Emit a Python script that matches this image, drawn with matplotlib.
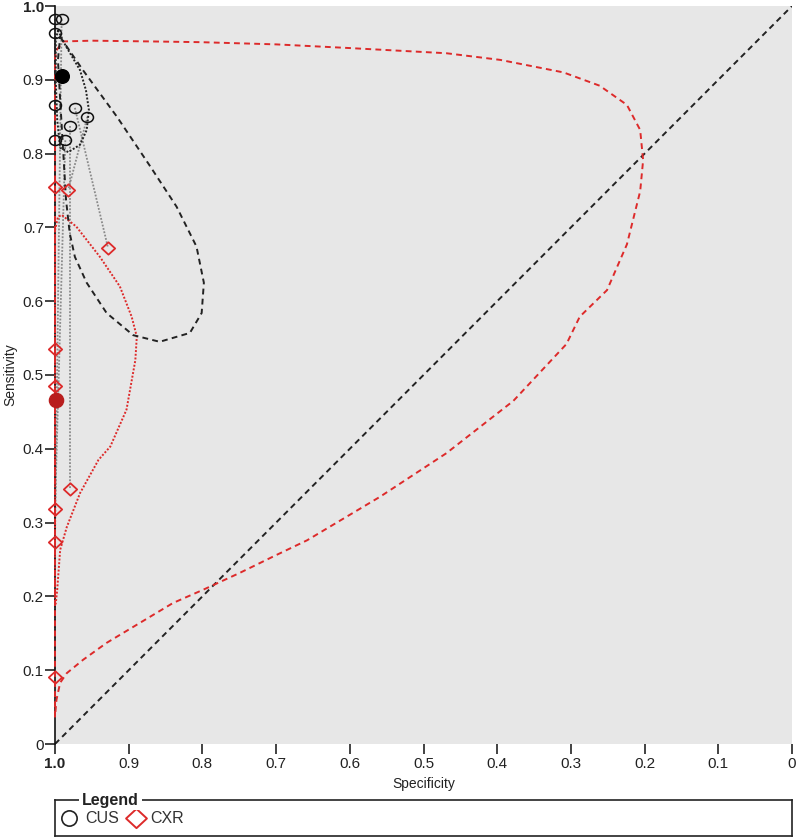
import matplotlib
matplotlib.use('Agg')
import matplotlib.pyplot as plt
from matplotlib.path import Path
from matplotlib.transforms import Affine2D
import numpy as np

plt.rcParams['font.family'] = ['Liberation Sans', 'DejaVu Sans']

# ---------------- data ----------------
# individual studies (paired): CUS and CXR (specificity, sensitivity)
cus_spec = [1.0, 0.991, 1.0, 1.0, 0.973, 0.956, 0.980, 1.0, 0.986]
cus_sens = [0.982, 0.982, 0.963, 0.866, 0.862, 0.850, 0.837, 0.819, 0.818]
cxr_spec = [1.0, 1.0, 1.0, 1.0, 0.928, 0.982, 0.980, 1.0, 1.0]
cxr_sens = [0.091, 0.274, 0.485, 0.535, 0.672, 0.751, 0.346, 0.755, 0.318]

# summary points
cus_sum_spec, cus_sum_sens = 0.991, 0.905
cxr_sum_spec, cxr_sum_sens = 0.999, 0.466

# CUS 95% confidence region (dotted)
cus_conf_spec = [0.996, 0.986, 0.966, 0.958, 0.954, 0.957, 0.966, 0.982, 0.993, 0.997, 0.999, 0.999, 0.996]
cus_conf_sens = [0.967, 0.947, 0.913, 0.886, 0.859, 0.832, 0.812, 0.802, 0.808, 0.846, 0.900, 0.954, 0.967]

# CUS 95% prediction region (dashed)
cus_pred_spec = [0.993, 0.962, 0.916, 0.871, 0.835, 0.808, 0.798, 0.801, 0.817, 0.858, 0.894,
                 0.930, 0.957, 0.973, 0.980, 0.985, 0.989, 0.993, 0.996, 0.993]
cus_pred_sens = [0.958, 0.913, 0.850, 0.783, 0.728, 0.674, 0.625, 0.584, 0.557, 0.545, 0.554,
                 0.584, 0.625, 0.660, 0.692, 0.737, 0.805, 0.873, 0.927, 0.958]

# CXR 95% confidence region (dotted)
cxr_conf_spec = [1.0, 0.996, 0.991, 0.971, 0.939, 0.912, 0.896, 0.889, 0.891, 0.903, 0.925,
                 0.941, 0.966, 0.984, 0.993, 0.997, 0.999, 1.0, 1.0]
cxr_conf_sens = [0.696, 0.714, 0.717, 0.701, 0.660, 0.620, 0.579, 0.552, 0.520, 0.453, 0.403,
                 0.385, 0.340, 0.294, 0.263, 0.209, 0.190, 0.19, 0.696]

# CXR 95% prediction region (dashed)
cxr_pred_spec = [0.998, 0.989, 0.95, 0.871, 0.803, 0.700, 0.600, 0.469, 0.396, 0.310, 0.261,
                 0.224, 0.206, 0.202, 0.206, 0.224, 0.251, 0.288, 0.306, 0.378, 0.469,
                 0.559, 0.658, 0.704, 0.749, 0.799, 0.840, 0.885, 0.930, 0.962, 0.984,
                 0.993, 0.998, 1.0, 1.0, 0.998]
cxr_pred_sens = [0.940, 0.952, 0.953, 0.952, 0.951, 0.948, 0.943, 0.936, 0.927, 0.910, 0.892,
                 0.866, 0.832, 0.791, 0.749, 0.677, 0.615, 0.579, 0.542, 0.465, 0.394,
                 0.335, 0.276, 0.254, 0.232, 0.209, 0.191, 0.164, 0.137, 0.114, 0.096,
                 0.083, 0.060, 0.037, 0.93, 0.940]

xticks = [1.0, 0.9, 0.8, 0.7, 0.6, 0.5, 0.4, 0.3, 0.2, 0.1, 0.0]
xticklabels = ['1.0', '0.9', '0.8', '0.7', '0.6', '0.5', '0.4', '0.3', '0.2', '0.1', '0']
yticks = [0.0, 0.1, 0.2, 0.3, 0.4, 0.5, 0.6, 0.7, 0.8, 0.9, 1.0]
yticklabels = ['0', '0.1', '0.2', '0.3', '0.4', '0.5', '0.6', '0.7', '0.8', '0.9', '1.0']

# ---------------- style ----------------
RED = '#dd2a2a'
DARKRED = '#b81d1d'
GRAY_BG = '#e7e7e7'

ellipse_marker = Path.unit_circle().transformed(Affine2D().scale(1.2, 1.0))
diamond_marker = Path([(0, 1), (1.08, 0), (0, -1), (-1.08, 0), (0, 1)],
                      [Path.MOVETO, Path.LINETO, Path.LINETO, Path.LINETO, Path.CLOSEPOLY])

W, H = 798, 840
fig = plt.figure(figsize=(W / 100, H / 100), dpi=100)
ax = fig.add_axes([55 / W, (H - 744) / H, 737 / W, 738 / H])
ax.set_facecolor(GRAY_BG)

# diagonal
ax.plot([1, 0], [0, 1], color='#222222', lw=1.4, ls=(0, (3, 2.2)), zorder=2)

# paired study links
for s1, e1, s2, e2 in zip(cus_spec, cus_sens, cxr_spec, cxr_sens):
    ax.plot([s1, s2], [e1, e2], color='#8a8a8a', lw=1.3, ls=(0, (1, 0.9)), zorder=2, clip_on=False)

# regions
ax.plot(cxr_pred_spec, cxr_pred_sens, color=RED, lw=1.4, ls=(0, (3, 2.2)), zorder=3, clip_on=False)
ax.plot(cxr_conf_spec, cxr_conf_sens, color=RED, lw=1.4, ls=(0, (1, 0.9)), zorder=3, clip_on=False)
ax.plot(cus_pred_spec, cus_pred_sens, color='#222222', lw=1.4, ls=(0, (3, 2.2)), zorder=3, clip_on=False)
ax.plot(cus_conf_spec, cus_conf_sens, color='#222222', lw=1.4, ls=(0, (1, 0.9)), zorder=3, clip_on=False)

# study points
ax.plot(cus_spec, cus_sens, ls='none', marker=ellipse_marker, ms=8.6, mfc='none',
        mec='#111111', mew=1.1, zorder=5, clip_on=False)
ax.plot(cxr_spec, cxr_sens, ls='none', marker=diamond_marker, ms=9.6, mfc='none',
        mec=RED, mew=1.3, zorder=5, clip_on=False)

# summary points
ax.plot([cus_sum_spec], [cus_sum_sens], ls='none', marker='o', ms=9.8, color='black', zorder=6, clip_on=False)
ax.plot([cxr_sum_spec], [cxr_sum_sens], ls='none', marker='o', ms=10.2, color=DARKRED, zorder=6, clip_on=False)

ax.set_xlim(1.0, 0.0)
ax.set_ylim(0.0, 1.0)
ax.set_xticks(xticks)
ax.set_xticklabels(xticklabels)
ax.set_yticks(yticks)
ax.set_yticklabels(yticklabels)
for lab in ax.get_xticklabels():
    if lab.get_text() == '1.0':
        lab.set_fontweight('bold')
for lab in ax.get_yticklabels():
    if lab.get_text() == '1.0':
        lab.set_fontweight('bold')

ax.tick_params(axis='both', which='both', direction='out', length=7, width=1.2,
               color='#222222', labelsize=11, labelcolor='#222222')
ax.tick_params(axis='x', pad=2)
ax.tick_params(axis='y', pad=1)

for side in ['top', 'right', 'bottom']:
    ax.spines[side].set_visible(False)
ax.spines['left'].set_color('#111111')
ax.spines['left'].set_linewidth(1.2)

ax.set_xlabel('Specificity', fontsize=10, color='#222222', labelpad=5)
ax.set_ylabel('Sensitivity', fontsize=10, color='#222222', labelpad=4)

# ---------------- legend ----------------
lax = fig.add_axes([55 / W, (H - 836) / H, 737 / W, 36 / H])
lax.set_xlim(0, 737)
lax.set_ylim(36, 0)
lax.set_xticks([])
lax.set_yticks([])
for sp in lax.spines.values():
    sp.set_linewidth(1.2)
    sp.set_color('#222222')
lax.text(27, 0, 'Legend', fontsize=11.5, fontweight='bold', color='#222222',
         ha='left', va='center', bbox=dict(facecolor='white', edgecolor='none', pad=2), clip_on=False)
lax.plot([13.5], [18], ls='none', marker='o', ms=11, mfc='none', mec='#222222', mew=1.2, clip_on=False)
lax.text(30, 18.5, 'CUS', fontsize=11.5, color='#333333', ha='left', va='center')
lax.plot([81], [18], ls='none', marker=diamond_marker, ms=15, mfc='none', mec=RED, mew=1.4, clip_on=False)
lax.text(95, 18.5, 'CXR', fontsize=11.5, color='#333333', ha='left', va='center')

fig.savefig('out.png', dpi=100)
